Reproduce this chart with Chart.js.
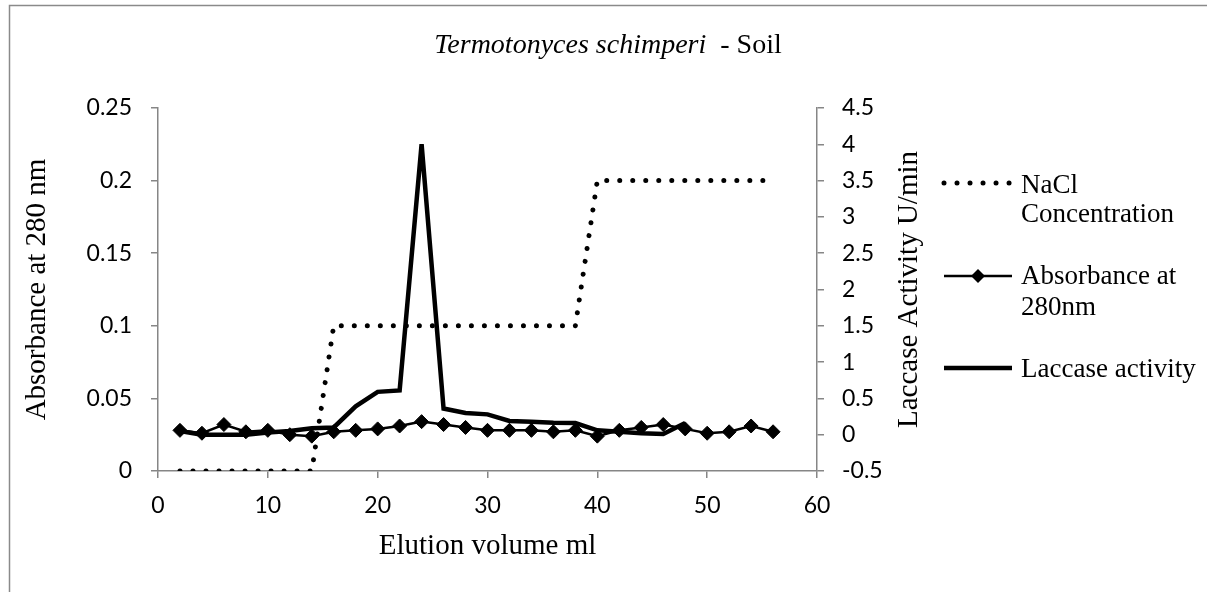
<!DOCTYPE html>
<html lang="en">
<head>
    <meta charset="UTF-8">
    <title>Termotonyces schimperi - Soil</title>
    <style>
        html, body { margin: 0; padding: 0; background: #fff; }
        .chart-box { width: 1207px; height: 592px; }
    </style>
</head>
<body>
    <div class="chart-box">
        <canvas id="elutionChart" width="1207" height="592"></canvas>
    </div>

    <script src="https://cdn.jsdelivr.net/npm/chart.js"></script>
    <script>
// values
const elution = [2, 4, 6, 8, 10, 12, 14, 16, 18, 20, 22, 24, 26, 28,
                 30, 32, 34, 36, 38, 40, 42, 44, 46, 48, 50, 52, 54, 56];
const nacl = [0, 0, 0, 0, 0, 0, 0, 0.1, 0.1, 0.1, 0.1, 0.1, 0.1, 0.1,
              0.1, 0.1, 0.1, 0.1, 0.1, 0.2, 0.2, 0.2, 0.2, 0.2, 0.2, 0.2, 0.2, 0.2];
const absorbance = [0.028, 0.026, 0.032, 0.027, 0.028, 0.025, 0.024, 0.027, 0.028, 0.029,
                    0.031, 0.034, 0.032, 0.030, 0.028, 0.028, 0.028, 0.027, 0.028, 0.024,
                    0.028, 0.030, 0.032, 0.029, 0.026, 0.027, 0.031, 0.027];
// laccase was only measured up to 48 ml
const laccase = [0.05, 0.0, 0.0, 0.0, 0.03, 0.05, 0.09, 0.10, 0.39, 0.59, 0.61, 4.0,
                 0.36, 0.30, 0.28, 0.19, 0.18, 0.165, 0.16, 0.06, 0.04, 0.02, 0.01, 0.16];

const seriesNames = ['NaCl Concentration', 'Absorbance at 280nm', 'Laccase activity'];
const xTickLabels = ['0', '10', '20', '30', '40', '50', '60'];
const absTickLabels = ['0', '0.05', '0.1', '0.15', '0.2', '0.25'];
const lacTickLabels = ['-0.5', '0', '0.5', '1', '1.5', '2', '2.5', '3', '3.5', '4', '4.5'];

const titleItalic = 'Termotonyces schimperi';
const titleRest = '  - Soil';
const rightTitle = 'Laccase Activity U/min';

const SERIF = '"Liberation Serif", "Times New Roman", serif';
const SANS = 'Lato, "Liberation Sans", sans-serif';
const AXIS_GREY = '#868686';

const pts = (ys) => ys.map((y, i) => ({ x: elution[i], y: y }));

// border, title, right axis title and legend drawn by hand
const decor = {
    id: 'decor',
    beforeDraw(chart) {
        const c = chart.ctx;
        c.save();
        c.fillStyle = '#fff';
        c.fillRect(0, 0, chart.width, chart.height);
        c.strokeStyle = '#8a8a8a';
        c.lineWidth = 1.5;
        c.strokeRect(9.5, 5.5, chart.width + 20, chart.height + 20);
        c.restore();
    },
    afterDraw(chart) {
        const c = chart.ctx;
        const area = chart.chartArea;
        c.save();
        c.fillStyle = '#000';
        c.textBaseline = 'alphabetic';
        c.textAlign = 'left';

        // title
        c.font = 'italic 28px ' + SERIF;
        const w1 = c.measureText(titleItalic).width;
        c.font = '28px ' + SERIF;
        const w2 = c.measureText(titleRest).width;
        let tx = 608 - (w1 + w2) / 2;
        c.font = 'italic 28px ' + SERIF;
        c.fillText(titleItalic, tx, 53);
        c.font = '28px ' + SERIF;
        c.fillText(titleRest, tx + w1, 53);

        // right axis title, reads bottom to top like the left one
        c.save();
        c.translate(909, (area.top + area.bottom) / 2);
        c.rotate(-Math.PI / 2);
        c.font = '29px ' + SERIF;
        c.textAlign = 'center';
        c.textBaseline = 'middle';
        c.fillText(rightTitle, 0, 0);
        c.restore();

        // legend
        const ds = chart.data.datasets;
        const x0 = 944, x1 = 1012, textX = 1021;
        c.strokeStyle = '#000';

        c.lineWidth = ds[0].borderWidth;
        c.lineCap = 'round';
        c.setLineDash(ds[0].borderDash);
        c.beginPath(); c.moveTo(x0, 183); c.lineTo(x1, 183); c.stroke();
        c.setLineDash([]);
        c.lineCap = 'butt';

        c.lineWidth = ds[1].borderWidth;
        c.beginPath(); c.moveTo(x0, 276); c.lineTo(x1, 276); c.stroke();
        c.fillStyle = '#000';
        c.beginPath();
        c.moveTo(978, 276 - 7); c.lineTo(978 + 7, 276); c.lineTo(978, 276 + 7); c.lineTo(978 - 7, 276);
        c.closePath(); c.fill();

        c.lineWidth = ds[2].borderWidth;
        c.beginPath(); c.moveTo(x0, 368); c.lineTo(x1, 368); c.stroke();

        c.font = '27px ' + SERIF;
        c.fillText('NaCl', textX, 193);
        c.fillText('Concentration', textX, 222);
        c.fillText('Absorbance at', textX, 284);
        c.fillText('280nm', textX, 315);
        c.fillText('Laccase activity', textX, 377);
        c.restore();
    }
};

const axisGrid = {
    drawOnChartArea: false,
    drawTicks: true,
    tickLength: 7,
    color: AXIS_GREY,
    tickColor: AXIS_GREY,
    lineWidth: 1.5
};
const axisBorder = { display: true, color: AXIS_GREY, width: 1.5 };
const tickFont = { family: SANS, size: 23 };
const titleFont = { family: SERIF, size: 29 };

const ctx = document.getElementById('elutionChart').getContext('2d');
const elutionChart = new Chart(ctx, {
    type: 'line',
    data: {
        datasets: [{
            label: seriesNames[0],
            data: pts(nacl),
            yAxisID: 'y',
            borderColor: '#000',
            borderWidth: 5,
            borderDash: [0.01, 13],
            borderCapStyle: 'round',
            pointRadius: 0,
            fill: false,
            tension: 0
        }, {
            label: seriesNames[1],
            data: pts(absorbance),
            yAxisID: 'y',
            borderColor: '#000',
            borderWidth: 2.5,
            pointStyle: 'rectRot',
            pointRadius: 7,
            pointBackgroundColor: '#000',
            pointBorderColor: '#000',
            pointBorderWidth: 1,
            fill: false,
            tension: 0
        }, {
            label: seriesNames[2],
            data: pts(laccase),
            yAxisID: 'y1',
            borderColor: '#000',
            borderWidth: 4.5,
            borderJoinStyle: 'miter',
            pointRadius: 0,
            fill: false,
            tension: 0
        }]
    },
    options: {
        responsive: false,
        animation: false,
        events: [],
        layout: { padding: { left: 10, right: 280, top: 108, bottom: 20 } },
        plugins: {
            legend: { display: false },
            tooltip: { enabled: false },
            title: { display: false }
        },
        scales: {
            x: {
                type: 'linear',
                min: 0,
                max: 60,
                grid: axisGrid,
                border: axisBorder,
                ticks: {
                    stepSize: 10,
                    color: '#000',
                    font: tickFont,
                    padding: 14,
                    maxRotation: 0,
                    callback: (v) => xTickLabels[Math.round(v / 10)]
                },
                title: { display: true, text: 'Elution volume ml', color: '#000', font: titleFont, padding: { top: 0, bottom: 8 } },
                afterFit: (s) => { s.height = 101; }
            },
            y: {
                position: 'left',
                min: 0,
                max: 0.25,
                grid: axisGrid,
                border: axisBorder,
                ticks: {
                    stepSize: 0.05,
                    color: '#000',
                    font: tickFont,
                    padding: 19,
                    callback: (v) => absTickLabels[Math.round(v / 0.05)]
                },
                title: { display: true, text: 'Absorbance at 280 nm', color: '#000', font: titleFont, padding: { top: 10, bottom: 0 } },
                afterFit: (s) => { s.width = 148; }
            },
            y1: {
                position: 'right',
                min: -0.5,
                max: 4.5,
                grid: axisGrid,
                border: axisBorder,
                ticks: {
                    stepSize: 0.5,
                    color: '#000',
                    font: tickFont,
                    padding: 18,
                    callback: (v) => lacTickLabels[Math.round((v + 0.5) / 0.5)]
                },
                afterFit: (s) => { s.width = 110; }
            }
        }
    },
    plugins: [decor]
});
    </script>
</body>
</html>
